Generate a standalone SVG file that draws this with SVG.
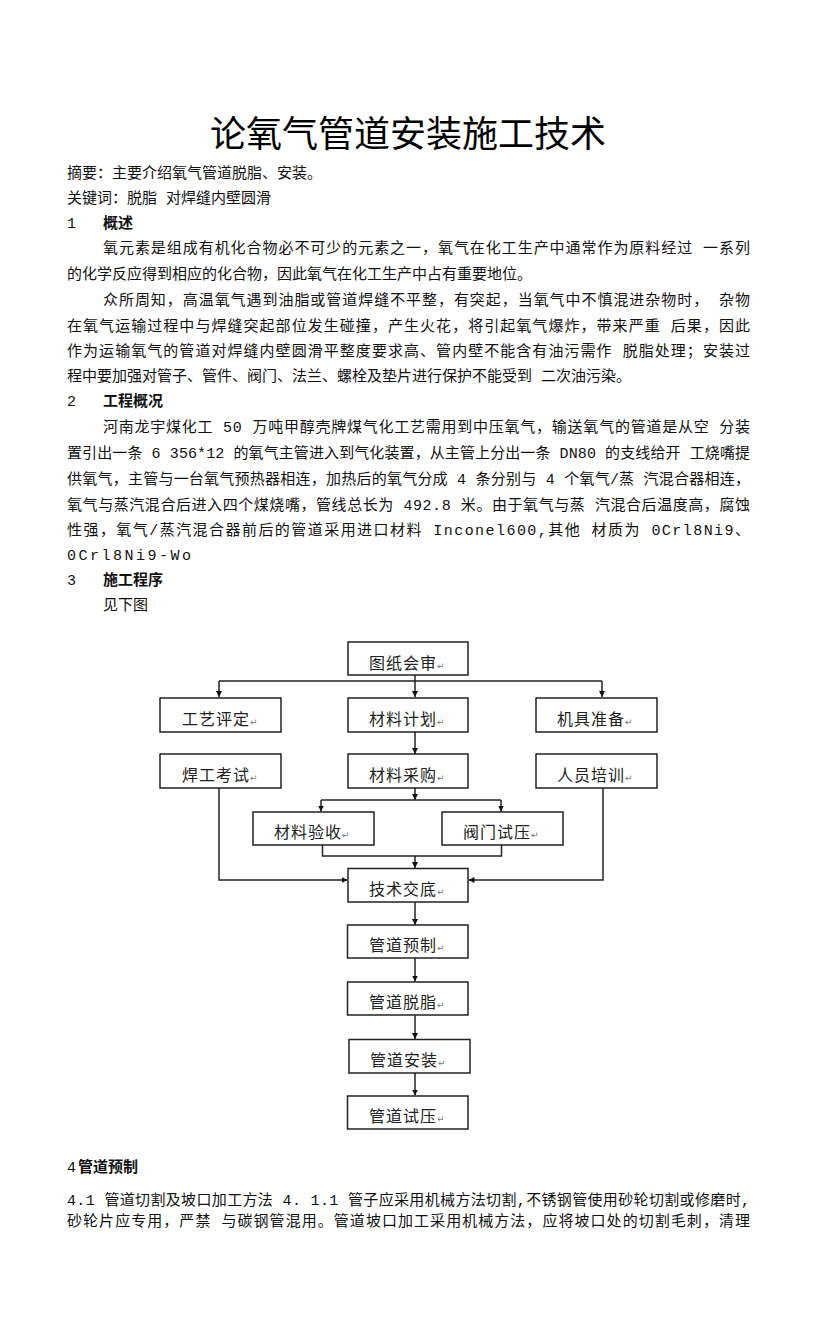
<svg xmlns="http://www.w3.org/2000/svg" width="816" height="1344" viewBox="0 0 816 1344">
<style>
.title{font-family:"Noto Sans CJK SC","Noto Sans",sans-serif;font-size:36px;fill:#000;}
.b{font-family:"Liberation Mono","Noto Sans CJK SC",monospace;font-size:15px;fill:#111;}
.h{font-family:"Noto Sans CJK SC",sans-serif;font-size:15px;font-weight:700;fill:#111;}
.box{fill:#fff;stroke:#222;stroke-width:1.5;}
.lbl{font-family:"Noto Sans CJK SC",sans-serif;font-size:16px;letter-spacing:1px;fill:#222;}
.rt{font-family:"DejaVu Sans",sans-serif;font-size:9px;fill:#777;letter-spacing:0;}
.ln{fill:none;stroke:#222;stroke-width:1.5;}
</style>
<defs>
<marker id="ah" viewBox="0 0 10 10" refX="10" refY="5" markerWidth="6" markerHeight="6" orient="auto" markerUnits="userSpaceOnUse">
<path d="M0,0 L10,5 L0,10 Z" fill="#111"/>
</marker>
</defs>
<rect width="816" height="1344" fill="#fff"/>

<text class="title" x="408" y="147" text-anchor="middle">论氧气管道安装施工技术</text>

<text class="b" x="67" y="178">摘要：主要介绍氧气管道脱脂、安装。</text>
<text class="b" x="67" y="203">关键词：脱脂 对焊缝内壁圆滑</text>
<text class="b" x="67" y="228">1</text><text class="h" x="103" y="228">概述</text>
<text class="b" x="103" y="253" textLength="647" lengthAdjust="spacing">氧元素是组成有机化合物必不可少的元素之一，氧气在化工生产中通常作为原料经过 一系列</text>
<text class="b" x="67" y="279">的化学反应得到相应的化合物，因此氧气在化工生产中占有重要地位。</text>
<text class="b" x="103" y="305" textLength="647" lengthAdjust="spacing">众所周知，高温氧气遇到油脂或管道焊缝不平整，有突起，当氧气中不慎混进杂物时， 杂物</text>
<text class="b" x="67" y="331" textLength="683" lengthAdjust="spacing">在氧气运输过程中与焊缝突起部位发生碰撞，产生火花，将引起氧气爆炸，带来严重 后果，因此</text>
<text class="b" x="67" y="356" textLength="683" lengthAdjust="spacing">作为运输氧气的管道对焊缝内壁圆滑平整度要求高、管内壁不能含有油污需作 脱脂处理；安装过</text>
<text class="b" x="67" y="381">程中要加强对管子、管件、阀门、法兰、螺栓及垫片进行保护不能受到 二次油污染。</text>
<text class="b" x="67" y="406">2</text><text class="h" x="103" y="406">工程概况</text>
<text class="b" x="103" y="432" textLength="647" lengthAdjust="spacing">河南龙宇煤化工 50 万吨甲醇壳牌煤气化工艺需用到中压氧气，输送氧气的管道是从空 分装</text>
<text class="b" x="67" y="458" textLength="683" lengthAdjust="spacing">置引出一条 6 356*12 的氧气主管进入到气化装置，从主管上分出一条 DN80 的支线给开 工烧嘴提</text>
<text class="b" x="67" y="484" textLength="683" lengthAdjust="spacing">供氧气，主管与一台氧气预热器相连，加热后的氧气分成 4 条分别与 4 个氧气/蒸 汽混合器相连，</text>
<text class="b" x="67" y="510" textLength="683" lengthAdjust="spacing">氧气与蒸汽混合后进入四个煤烧嘴，管线总长为 492.8 米。由于氧气与蒸 汽混合后温度高，腐蚀</text>
<text class="b" x="67" y="535" textLength="683" lengthAdjust="spacing">性强，氧气/蒸汽混合器前后的管道采用进口材料 Inconel600,其他 材质为 0Crl8Ni9、</text>
<text class="b" x="67" y="560" letter-spacing="2.5">0Crl8Ni9-Wo</text>
<text class="b" x="67" y="585">3</text><text class="h" x="103" y="585">施工程序</text>
<text class="b" x="103" y="610">见下图</text>

<g id="connectors">
<path class="ln" d="M415,675 V681 M219,681 H602"/>
<path class="ln" d="M219,681 V697" marker-end="url(#ah)"/>
<path class="ln" d="M415,681 V697" marker-end="url(#ah)"/>
<path class="ln" d="M602,681 V697" marker-end="url(#ah)"/>
<path class="ln" d="M415,732 V754" marker-end="url(#ah)"/>
<path class="ln" d="M415,788 V800" marker-end="url(#ah)"/>
<path class="ln" d="M321,800 H501"/>
<path class="ln" d="M321,800 V811.5" marker-end="url(#ah)"/>
<path class="ln" d="M501,800 V811.5" marker-end="url(#ah)"/>
<path class="ln" d="M322.5,845 V856 H501.5 V845"/>
<path class="ln" d="M415,856 V868" marker-end="url(#ah)"/>
<path class="ln" d="M219,788 V880 H347.5" marker-end="url(#ah)"/>
<path class="ln" d="M603,788 V880 H468.5" marker-end="url(#ah)" stroke="#444"/>
<path class="ln" d="M415,902 V925" marker-end="url(#ah)"/>
<path class="ln" d="M415,958 V981.5" marker-end="url(#ah)"/>
<path class="ln" d="M415,1015 V1039" marker-end="url(#ah)"/>
<path class="ln" d="M415,1073 V1095.5" marker-end="url(#ah)"/>
</g>

<g id="n_tuzhi"><rect class="box" x="348" y="642" width="120" height="33"/><text class="lbl" x="369" y="669">图纸会审<tspan class="rt">↵</tspan></text></g>
<g id="n_gongyi"><rect class="box" x="160" y="698" width="121" height="34"/><text class="lbl" x="182" y="725">工艺评定<tspan class="rt">↵</tspan></text></g>
<g id="n_jihua"><rect class="box" x="348" y="698" width="120" height="34"/><text class="lbl" x="369" y="725">材料计划<tspan class="rt">↵</tspan></text></g>
<g id="n_jiju"><rect class="box" x="536" y="698" width="121" height="34"/><text class="lbl" x="557" y="725">机具准备<tspan class="rt">↵</tspan></text></g>
<g id="n_hangong"><rect class="box" x="160" y="754" width="121" height="34"/><text class="lbl" x="182" y="781">焊工考试<tspan class="rt">↵</tspan></text></g>
<g id="n_caigou"><rect class="box" x="348" y="754" width="120" height="34"/><text class="lbl" x="369" y="781">材料采购<tspan class="rt">↵</tspan></text></g>
<g id="n_peixun"><rect class="box" x="536" y="754" width="121" height="34"/><text class="lbl" x="557" y="781">人员培训<tspan class="rt">↵</tspan></text></g>
<g id="n_yanshou"><rect class="box" x="253" y="812" width="121" height="33"/><text class="lbl" x="274" y="838">材料验收<tspan class="rt">↵</tspan></text></g>
<g id="n_famen"><rect class="box" x="442" y="812" width="121" height="33"/><text class="lbl" x="463" y="838">阀门试压<tspan class="rt">↵</tspan></text></g>
<g id="n_jiaodi"><rect class="box" x="348" y="868.5" width="120" height="33.5"/><text class="lbl" x="369" y="895">技术交底<tspan class="rt">↵</tspan></text></g>
<g id="n_yuzhi"><rect class="box" x="347.5" y="925" width="120.5" height="33"/><text class="lbl" x="369" y="951">管道预制<tspan class="rt">↵</tspan></text></g>
<g id="n_tuozhi"><rect class="box" x="347.5" y="982" width="120.5" height="33"/><text class="lbl" x="369" y="1008">管道脱脂<tspan class="rt">↵</tspan></text></g>
<g id="n_anzhuang"><rect class="box" x="349" y="1039.5" width="121" height="33.5"/><text class="lbl" x="370" y="1066">管道安装<tspan class="rt">↵</tspan></text></g>
<g id="n_shiya"><rect class="box" x="347.5" y="1096" width="120.5" height="33"/><text class="lbl" x="369" y="1122">管道试压<tspan class="rt">↵</tspan></text></g>

<text class="b" x="67" y="1172">4</text><text class="h" x="78" y="1172">管道预制</text>
<text class="b" x="67" y="1205" textLength="683" lengthAdjust="spacing">4.1 管道切割及坡口加工方法 4. 1.1 管子应采用机械方法切割,不锈钢管使用砂轮切割或修磨时,</text>
<text class="b" x="67" y="1226" textLength="683" lengthAdjust="spacing">砂轮片应专用，严禁 与碳钢管混用。管道坡口加工采用机械方法，应将坡口处的切割毛刺，清理</text>
</svg>
